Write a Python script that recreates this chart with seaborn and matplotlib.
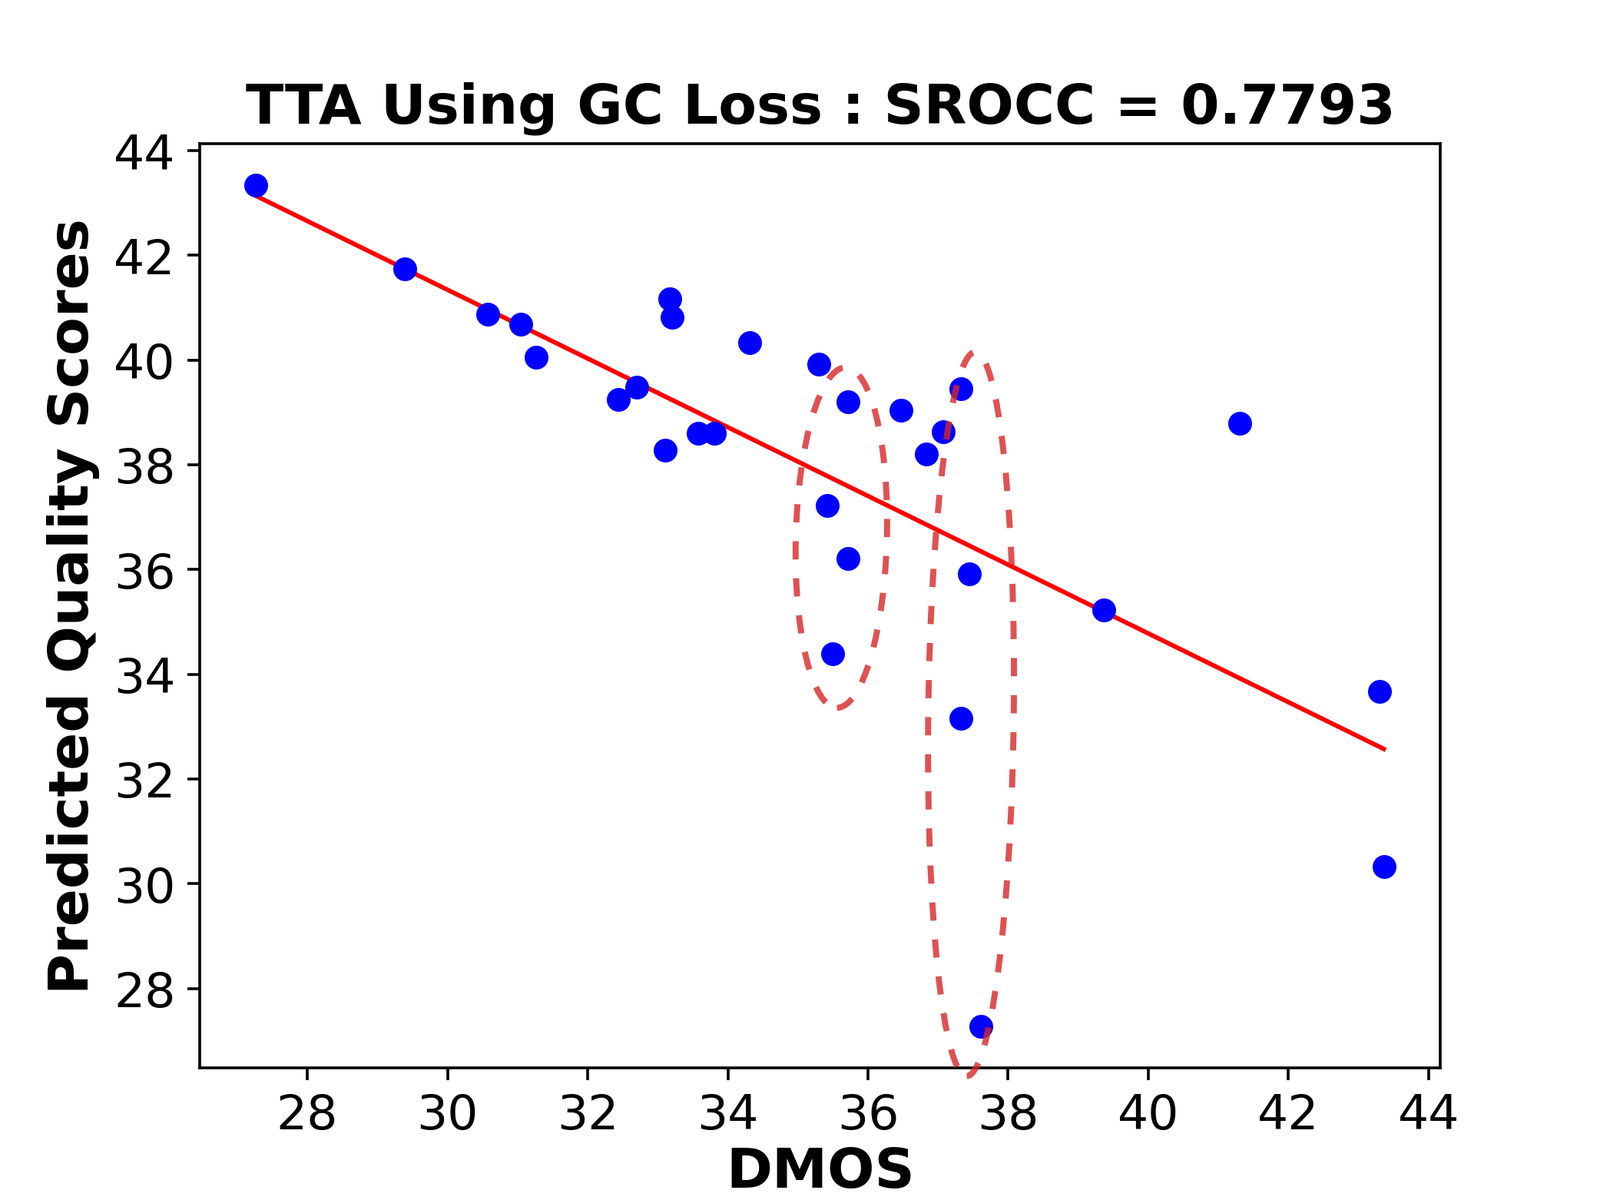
import numpy as np
import pandas as pd
import seaborn as sns
import matplotlib.pyplot as plt
from matplotlib.patches import Ellipse

# values
dmos = [27.27, 29.39, 30.57, 31.05, 31.27, 32.44, 32.70, 33.11, 33.17, 33.20,
        33.58, 33.81, 34.31, 35.30, 35.71, 35.42, 35.72, 35.50, 36.47, 36.83,
        37.07, 37.33, 37.45, 37.33, 37.61, 39.36, 41.30, 43.30, 43.36]
pred = [43.34, 41.75, 40.88, 40.68, 40.05, 39.25, 39.49, 38.28, 41.17, 40.82,
        38.61, 38.61, 40.33, 39.92, 39.20, 37.22, 36.21, 34.39, 39.04, 38.20,
        38.63, 39.45, 35.91, 33.16, 27.28, 35.23, 38.80, 33.67, 30.33]
srocc = 0.7793

# dashed ellipses around the two vertical groups (centre x, centre y, width, height, angle)
groups = [(35.62, 36.61, 1.30, 6.50, -1.1),
          (37.47, 33.24, 1.22, 13.83, -0.5)]

df = pd.DataFrame({'DMOS': dmos, 'Pred': pred})

fig, ax = plt.subplots(figsize=(6.4, 4.8), dpi=325.6)

sns.scatterplot(data=df, x='DMOS', y='Pred', color='blue', s=47,
                linewidth=0, ax=ax, zorder=3)
sns.regplot(data=df, x='DMOS', y='Pred', scatter=False, ci=None,
            color='red', line_kws={'linewidth': 1.3}, ax=ax)

for cx, cy, w, h, ang in groups:
    e = Ellipse((cx, cy), w, h, angle=ang, fill=False, edgecolor='#d62728',
                alpha=0.8, linewidth=1.75, linestyle=(0, (3.0, 3.1)),
                clip_on=False, zorder=4)
    ax.add_patch(e)

ax.set_title(f'TTA Using GC Loss : SROCC = {srocc}', fontsize=16,
             fontweight='bold')
ax.set_xlabel('DMOS', fontsize=16, fontweight='bold', labelpad=2)
ax.set_ylabel('Predicted Quality Scores', fontsize=16, fontweight='bold')
ax.tick_params(labelsize=14)
ax.set_xticks(np.arange(28, 45, 2))
ax.set_yticks(np.arange(28, 45, 2))
ax.set_xlim(26.47, 44.17)
ax.set_ylim(26.48, 44.14)

plt.savefig('out.png', dpi=325.6)
